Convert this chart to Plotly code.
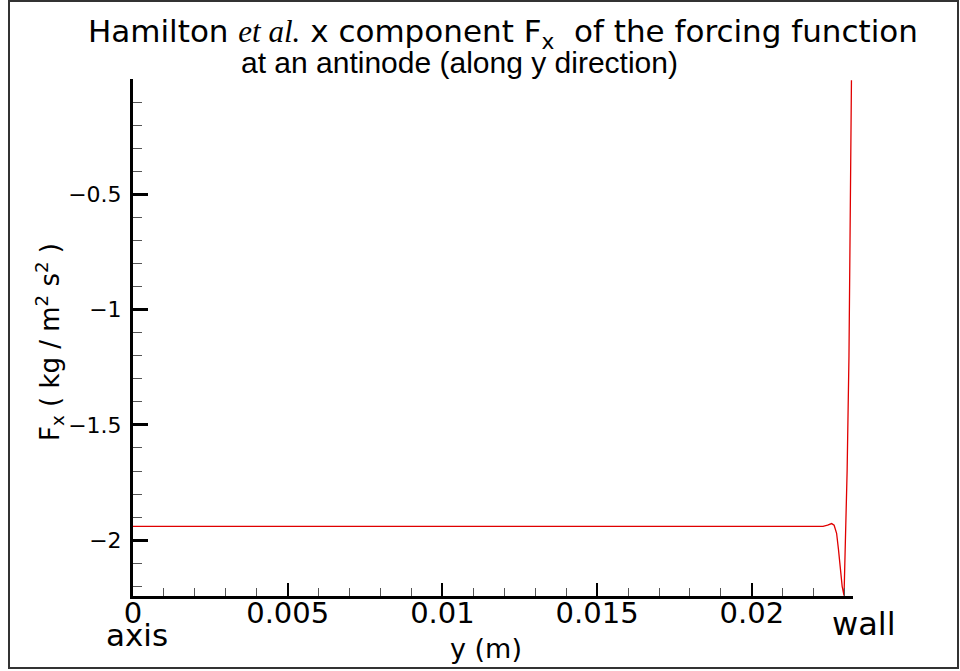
import plotly.graph_objects as go

# data
y_pos = [0.0, 0.005, 0.01, 0.015, 0.02, 0.0223, 0.02245, 0.02258, 0.02266, 0.02274,
         0.0228, 0.02286, 0.02292, 0.02298, 0.02303, 0.02308, 0.02314, 0.02318, 0.02322]
fx_vals = [-1.94, -1.94, -1.94, -1.94, -1.94, -1.94, -1.935, -1.928, -1.935, -1.97,
           -2.04, -2.12, -2.2, -2.24, -2.0, -1.7, -1.2, -0.7, -0.005]

x_tickvals = [0, 0.005, 0.01, 0.015, 0.02]
x_ticktext = ["0", "0.005", "0.01", "0.015", "0.02"]
y_tickvals = [-2, -1.5, -1, -0.5]
y_ticktext = ["\u22122", "\u22121.5", "\u22121", "\u22120.5"]

WIDE = "DejaVu Sans, Verdana, sans-serif"
ARIAL = "Liberation Sans, Arial, sans-serif"

W, H = 960, 671
# plot area in page pixels
L, R, T, B = 133, 853, 79, 596

def px(xp):
    return (xp - L) / (R - L)

def py(yp):
    return (B - yp) / (B - T)

fig = go.Figure()
fig.add_trace(go.Scatter(x=y_pos, y=fx_vals, mode="lines",
                         line=dict(color="#e00000", width=1.3),
                         showlegend=False, hoverinfo="skip"))

fig.update_layout(
    width=W, height=H,
    margin=dict(l=L, r=W - R, t=T, b=H - B),
    paper_bgcolor="white", plot_bgcolor="white",
    font=dict(family=WIDE, color="black"),
    xaxis=dict(range=[0, 0.02327], showgrid=False, zeroline=False,
               showline=True, linecolor="black", linewidth=3,
               tickmode="array", tickvals=x_tickvals, ticktext=x_ticktext,
               ticks="inside", ticklen=13, tickwidth=2, tickcolor="black",
               tickfont=dict(size=29, family=WIDE),
               ticklabelstandoff=-11,
               minor=dict(dtick=0.001, tick0=0, ticks="inside", ticklen=8,
                          tickwidth=1.2, tickcolor="#555")),
    yaxis=dict(range=[-2.242, 0.0], showgrid=False, zeroline=False,
               showline=True, linecolor="black", linewidth=3,
               tickmode="array", tickvals=y_tickvals, ticktext=y_ticktext,
               ticks="inside", ticklen=15, tickwidth=2.5, tickcolor="black",
               tickfont=dict(size=22, family=WIDE),
               ticklabelstandoff=4,
               minor=dict(dtick=0.1, tick0=0, ticks="inside", ticklen=9,
                          tickwidth=1.2, tickcolor="#555")),
)

# outer frame
fig.add_shape(type="rect", xref="paper", yref="paper",
              x0=px(9), x1=px(958), y0=py(668), y1=py(1),
              line=dict(color="#333", width=2), fillcolor="rgba(0,0,0,0)")

ann = [
    dict(text="Hamilton <span style='font-family:Liberation Serif'><i>et al.</i></span> x component F<sub>x</sub>  of the forcing function",
         x=px(503), y=py(34), size=31, fam=WIDE),
    dict(text="at an antinode (along y direction)", x=px(459), y=py(62), size=30, fam=ARIAL),
    dict(text="y (m)", x=px(486), y=py(648), size=27, fam=WIDE),
    dict(text="axis", x=px(137), y=py(635), size=31, fam=WIDE),
    dict(text="wall", x=px(864), y=py(624), size=32, fam=WIDE),
]
for a in ann:
    fig.add_annotation(text=a["text"], xref="paper", yref="paper", x=a["x"], y=a["y"],
                       xanchor="center", yanchor="middle", showarrow=False,
                       font=dict(size=a["size"], family=a["fam"], color="black"))

fig.add_annotation(text="F<sub>x</sub> ( kg / m<sup>2</sup> s<sup>2</sup> )",
                   xref="paper", yref="paper", x=px(49), y=py(342),
                   xanchor="center", yanchor="middle", showarrow=False, textangle=-90,
                   font=dict(size=26, family=WIDE, color="black"))

fig.write_html("out.html", config={"displayModeBar": False},
               post_script="document.body.style.margin='0';")
